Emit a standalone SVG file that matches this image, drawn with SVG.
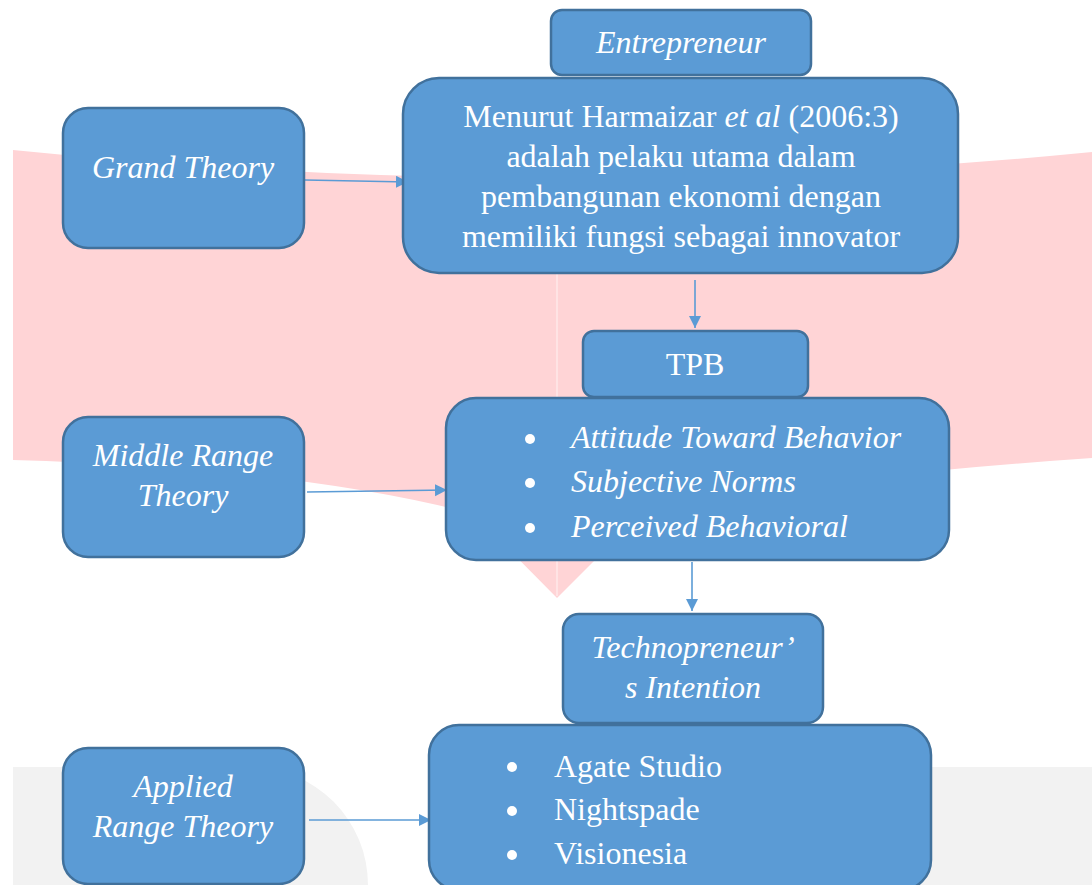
<svg xmlns="http://www.w3.org/2000/svg" width="1092" height="885" viewBox="0 0 1092 885">
<style>
.box{fill:#5b9bd5;stroke:#41719c;stroke-width:2.5}
.t{font-family:"Liberation Serif","Times New Roman",serif;font-size:32px;fill:#ffffff}
.c{text-anchor:middle}
.i{font-style:italic}
.conn{stroke:#5b9bd5;stroke-width:1.6;fill:none;marker-end:url(#ah)}
.dot{fill:#ffffff}
</style>
<defs>
<marker id="ah" markerUnits="userSpaceOnUse" markerWidth="13" markerHeight="13" refX="12" refY="6" orient="auto">
<path d="M0,0 L12,6 L0,12 Z" fill="#5b9bd5"/>
</marker>
</defs>
<rect x="0" y="0" width="1092" height="885" fill="#ffffff"/>
<g id="background">
<path d="M13,150 Q552,205 1092,152 L1092,458 Q800,478 640,515 L557,598 L474,514 Q300,468 13,460 Z" fill="#ffd4d6"/>
<line x1="557" y1="265" x2="557" y2="596" stroke="#ffe3e4" stroke-width="2"/>
<path d="M13,767 L250,767 A118,118 0 0 1 368,885 L13,885 Z" fill="#f2f2f2"/>
<rect x="600" y="767" width="492" height="118" fill="#f2f2f2"/>
</g>
<g id="connectors">
<line class="conn" x1="305" y1="180" x2="408" y2="182"/>
<line class="conn" x1="695" y1="280" x2="695" y2="328"/>
<line class="conn" x1="307" y1="492" x2="447" y2="490"/>
<line class="conn" x1="692" y1="562" x2="692" y2="611"/>
<line class="conn" x1="309" y1="820" x2="431" y2="820"/>
</g>
<g id="entrepreneur">
<rect class="box" x="551" y="10" width="260" height="65" rx="11"/>
<text class="t c i" x="681" y="53">Entrepreneur</text>
</g>
<g id="definition">
<rect class="box" x="403" y="78" width="555" height="195" rx="36"/>
<text class="t c" x="681" y="127">Menurut Harmaizar <tspan class="i">et al</tspan> (2006:3)</text>
<text class="t c" x="681" y="167">adalah pelaku utama dalam</text>
<text class="t c" x="681" y="207">pembangunan ekonomi dengan</text>
<text class="t c" x="681" y="247">memiliki fungsi sebagai innovator</text>
</g>
<g id="grand-theory">
<rect class="box" x="63" y="108" width="241" height="140" rx="25"/>
<text class="t c i" x="183" y="178">Grand Theory</text>
</g>
<g id="tpb">
<rect class="box" x="583" y="331" width="225" height="66" rx="11"/>
<text class="t c" x="695" y="375">TPB</text>
</g>
<g id="tpb-items">
<rect class="box" x="446" y="398" width="503" height="162" rx="30"/>
<circle class="dot" cx="530" cy="439" r="5"/>
<circle class="dot" cx="530" cy="483" r="5"/>
<circle class="dot" cx="530" cy="528" r="5"/>
<text class="t i" x="571" y="448">Attitude Toward Behavior</text>
<text class="t i" x="571" y="492">Subjective Norms</text>
<text class="t i" x="571" y="537">Perceived Behavioral</text>
</g>
<g id="middle-range">
<rect class="box" x="63" y="417" width="241" height="140" rx="25"/>
<text class="t c i" x="183" y="466">Middle Range</text>
<text class="t c i" x="183" y="506">Theory</text>
</g>
<g id="intention">
<rect class="box" x="563" y="614" width="260" height="109" rx="16"/>
<text class="t c i" x="693" y="658">Technopreneur’</text>
<text class="t c i" x="693" y="698">s Intention</text>
</g>
<g id="companies">
<rect class="box" x="429" y="725" width="502" height="165" rx="30"/>
<circle class="dot" cx="512" cy="767" r="5"/>
<circle class="dot" cx="512" cy="811" r="5"/>
<circle class="dot" cx="512" cy="855" r="5"/>
<text class="t" x="554" y="777">Agate Studio</text>
<text class="t" x="554" y="820">Nightspade</text>
<text class="t" x="554" y="864">Visionesia</text>
</g>
<g id="applied-range">
<rect class="box" x="63" y="748" width="241" height="136" rx="25"/>
<text class="t c i" x="183" y="797">Applied</text>
<text class="t c i" x="183" y="837">Range Theory</text>
</g>
</svg>
